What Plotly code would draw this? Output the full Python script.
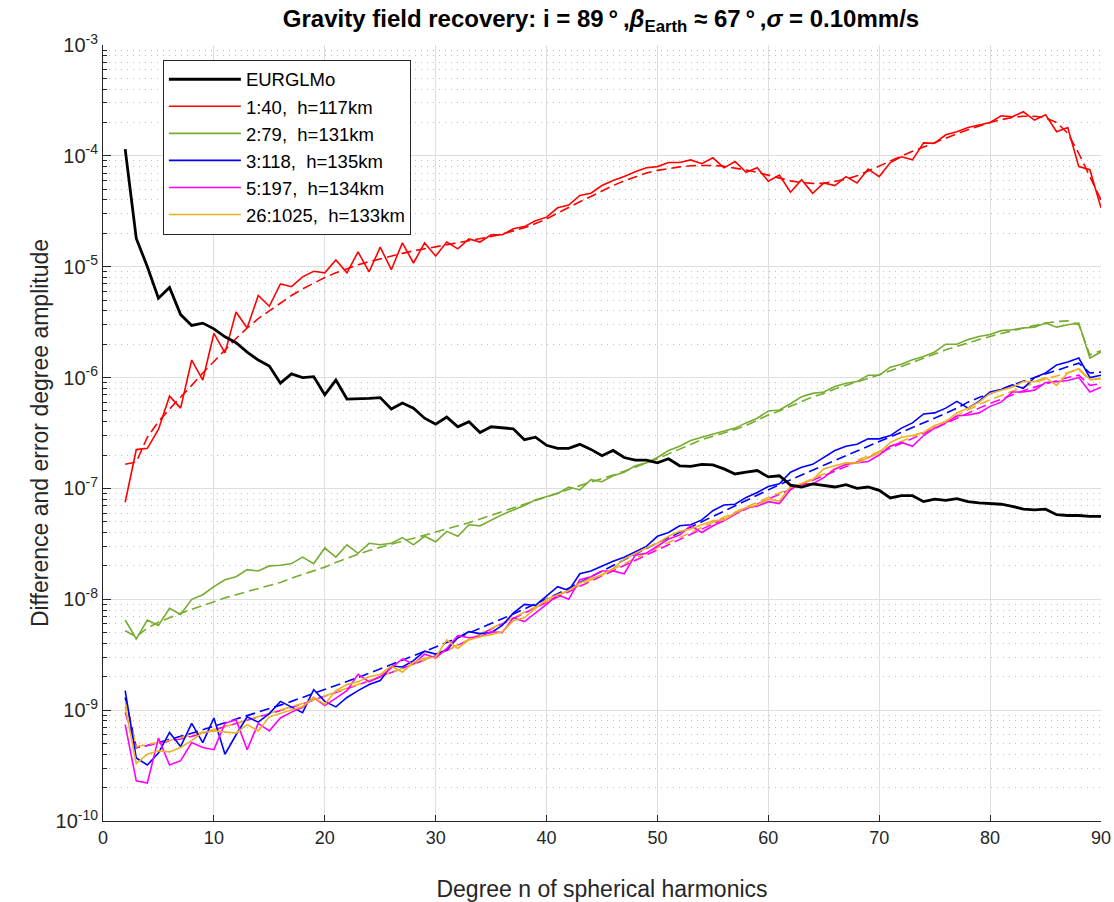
import plotly.graph_objects as go

n = list(range(2, 91))

eurglmo = [1.15e-4, 1.8e-5, 1.0e-5, 5.2e-6, 6.5e-6, 3.7e-6, 2.95e-6, 3.1e-6, 2.75e-6, 2.33e-6,
           2.06e-6, 1.7e-6, 1.44e-6, 1.27e-6, 8.9e-7, 1.08e-6, 1.0e-6, 1.02e-6, 7.0e-7, 9.5e-7,
           6.4e-7, 6.4e-7, 6.5e-7, 6.6e-7, 5.2e-7, 5.9e-7, 5.3e-7, 4.3e-7, 3.8e-7, 4.4e-7,
           3.6e-7, 4.0e-7, 3.2e-7, 3.6e-7, 3.5e-7, 3.45e-7, 2.75e-7, 2.9e-7, 2.45e-7, 2.3e-7,
           2.3e-7, 2.5e-7, 2.25e-7, 1.97e-7, 2.2e-7, 1.9e-7, 1.8e-7, 1.8e-7, 1.7e-7, 1.85e-7,
           1.6e-7, 1.58e-7, 1.65e-7, 1.63e-7, 1.5e-7, 1.35e-7, 1.4e-7, 1.45e-7, 1.27e-7, 1.3e-7,
           1.07e-7, 1.03e-7, 1.1e-7, 1.07e-7, 1.03e-7, 1.08e-7, 1.0e-7, 1.03e-7, 9.6e-8, 8.2e-8,
           8.6e-8, 8.6e-8, 7.6e-8, 8.0e-8, 7.8e-8, 8.1e-8, 7.6e-8, 7.4e-8, 7.3e-8, 7.2e-8,
           6.9e-8, 6.5e-8, 6.4e-8, 6.5e-8, 5.8e-8, 5.7e-8, 5.7e-8, 5.6e-8, 5.6e-8]

red_diff = [7.5e-8, 2.24e-7, 2.3e-7, 3.4e-7, 6.8e-7, 5.3e-7, 1.44e-6, 9.5e-7, 2.5e-6, 1.67e-6,
            3.9e-6, 2.8e-6, 5.5e-6, 4.4e-6, 7.0e-6, 6.6e-6, 8.1e-6, 9.1e-6, 8.8e-6, 1.15e-5,
            8.8e-6, 1.36e-5, 9.0e-6, 1.5e-5, 9.4e-6, 1.64e-5, 1.08e-5, 1.64e-5, 1.25e-5, 1.67e-5,
            1.45e-5, 1.78e-5, 1.67e-5, 1.94e-5, 1.94e-5, 2.2e-5, 2.3e-5, 2.6e-5, 2.8e-5, 3.4e-5,
            3.6e-5, 4.4e-5, 4.6e-5, 5.4e-5, 6.0e-5, 6.5e-5, 7.2e-5, 7.8e-5, 8.0e-5, 8.7e-5,
            8.7e-5, 9.2e-5, 8.5e-5, 9.6e-5, 7.8e-5, 8.9e-5, 7.1e-5, 7.8e-5, 5.9e-5, 6.7e-5,
            4.7e-5, 6.1e-5, 4.6e-5, 5.7e-5, 5.4e-5, 6.5e-5, 5.7e-5, 7.6e-5, 6.5e-5, 8.7e-5,
            9.8e-5, 9.2e-5, 1.31e-4, 1.3e-4, 1.55e-4, 1.65e-4, 1.8e-4, 1.9e-4, 2.0e-4, 2.3e-4,
            2.25e-4, 2.5e-4, 2.1e-4, 2.35e-4, 1.65e-4, 1.8e-4, 8.0e-5, 7.5e-5, 3.4e-5]

red_err = [1.65e-7, 1.73e-7, 2.9e-7, 4.0e-7, 5.2e-7, 6.6e-7, 8.5e-7, 1.1e-6, 1.4e-6, 1.8e-6,
           2.25e-6, 2.8e-6, 3.4e-6, 4.0e-6, 4.7e-6, 5.5e-6, 6.3e-6, 7.1e-6, 8.0e-6, 8.8e-6,
           9.6e-6, 1.04e-5, 1.11e-5, 1.18e-5, 1.25e-5, 1.32e-5, 1.39e-5, 1.45e-5, 1.5e-5, 1.57e-5,
           1.63e-5, 1.7e-5, 1.78e-5, 1.87e-5, 1.97e-5, 2.1e-5, 2.25e-5, 2.45e-5, 2.7e-5, 3.05e-5,
           3.4e-5, 3.85e-5, 4.3e-5, 4.85e-5, 5.4e-5, 5.95e-5, 6.5e-5, 7.0e-5, 7.4e-5, 7.7e-5,
           7.95e-5, 8.15e-5, 8.2e-5, 8.2e-5, 8.05e-5, 7.8e-5, 7.45e-5, 7.1e-5, 6.7e-5, 6.3e-5,
           5.95e-5, 5.75e-5, 5.65e-5, 5.65e-5, 5.85e-5, 6.15e-5, 6.6e-5, 7.3e-5, 8.1e-5, 9.0e-5,
           1.0e-4, 1.1e-4, 1.2e-4, 1.32e-4, 1.45e-4, 1.58e-4, 1.72e-4, 1.86e-4, 2.0e-4, 2.12e-4,
           2.22e-4, 2.28e-4, 2.28e-4, 2.2e-4, 2.0e-4, 1.6e-4, 1.05e-4, 6.5e-5, 4.0e-5]

green_diff = [6.5e-9, 4.4e-9, 6.5e-9, 5.8e-9, 8.3e-9, 7.3e-9, 1.0e-8, 1.1e-8, 1.3e-8, 1.5e-8,
              1.6e-8, 1.85e-8, 1.8e-8, 2.0e-8, 2.03e-8, 2.1e-8, 2.4e-8, 2.1e-8, 2.9e-8, 2.4e-8,
              3.1e-8, 2.6e-8, 3.2e-8, 3.1e-8, 3.2e-8, 3.6e-8, 3.1e-8, 3.7e-8, 3.3e-8, 4.1e-8,
              3.7e-8, 4.7e-8, 4.6e-8, 5.2e-8, 5.8e-8, 6.4e-8, 7.0e-8, 7.9e-8, 8.4e-8, 9.0e-8,
              1.03e-7, 9.7e-8, 1.2e-7, 1.15e-7, 1.3e-7, 1.4e-7, 1.6e-7, 1.7e-7, 1.9e-7, 2.2e-7,
              2.4e-7, 2.7e-7, 2.9e-7, 3.1e-7, 3.3e-7, 3.5e-7, 3.9e-7, 4.3e-7, 5.0e-7, 5.1e-7,
              5.8e-7, 6.7e-7, 7.2e-7, 7.4e-7, 8.3e-7, 8.9e-7, 9.2e-7, 1.05e-6, 1.05e-6, 1.24e-6,
              1.32e-6, 1.45e-6, 1.55e-6, 1.7e-6, 2.0e-6, 2.0e-6, 2.2e-6, 2.35e-6, 2.45e-6, 2.65e-6,
              2.7e-6, 2.8e-6, 2.85e-6, 3.1e-6, 2.85e-6, 3.0e-6, 3.1e-6, 1.5e-6, 1.7e-6]

green_err = [5.2e-9, 4.6e-9, 5.5e-9, 6.2e-9, 6.8e-9, 7.5e-9, 8.1e-9, 8.8e-9, 9.6e-9, 1.03e-8,
             1.1e-8, 1.17e-8, 1.25e-8, 1.33e-8, 1.42e-8, 1.55e-8, 1.68e-8, 1.8e-8, 1.95e-8, 2.15e-8,
             2.35e-8, 2.55e-8, 2.75e-8, 2.95e-8, 3.15e-8, 3.35e-8, 3.55e-8, 3.8e-8, 4.05e-8, 4.3e-8,
             4.6e-8, 4.9e-8, 5.3e-8, 5.7e-8, 6.2e-8, 6.7e-8, 7.2e-8, 7.8e-8, 8.4e-8, 9.1e-8,
             9.8e-8, 1.06e-7, 1.14e-7, 1.22e-7, 1.32e-7, 1.43e-7, 1.55e-7, 1.68e-7, 1.85e-7, 2.05e-7,
             2.25e-7, 2.5e-7, 2.75e-7, 2.95e-7, 3.15e-7, 3.4e-7, 3.7e-7, 4.1e-7, 4.6e-7, 5.0e-7,
             5.5e-7, 6.1e-7, 6.7e-7, 7.2e-7, 7.9e-7, 8.5e-7, 9.1e-7, 9.9e-7, 1.06e-6, 1.15e-6,
             1.25e-6, 1.37e-6, 1.5e-6, 1.63e-6, 1.78e-6, 1.92e-6, 2.07e-6, 2.2e-6, 2.35e-6, 2.5e-6,
             2.65e-6, 2.8e-6, 2.95e-6, 3.1e-6, 3.2e-6, 3.25e-6, 3.0e-6, 1.6e-6, 1.75e-6]

blue_diff = [1.5e-9, 3.7e-10, 3.2e-10, 4.1e-10, 6.3e-10, 4.7e-10, 7.6e-10, 5.1e-10, 8.5e-10, 4.0e-10,
             6.0e-10, 8.7e-10, 7.8e-10, 9.3e-10, 1.2e-9, 1.07e-9, 9.5e-10, 1.53e-9, 1.2e-9, 1.07e-9,
             1.3e-9, 1.5e-9, 1.7e-9, 1.85e-9, 2.5e-9, 2.45e-9, 2.8e-9, 3.4e-9, 3.2e-9, 3.5e-9,
             4.5e-9, 5.1e-9, 4.9e-9, 5.0e-9, 5.8e-9, 7.5e-9, 9.0e-9, 8.8e-9, 1.08e-8, 1.3e-8,
             1.2e-8, 1.7e-8, 1.8e-8, 2.0e-8, 2.2e-8, 2.4e-8, 2.7e-8, 3.0e-8, 3.7e-8, 4.0e-8,
             4.6e-8, 4.7e-8, 5.2e-8, 6.3e-8, 7.1e-8, 7.2e-8, 8.3e-8, 9.2e-8, 1.04e-7, 1.1e-7,
             1.4e-7, 1.55e-7, 1.65e-7, 1.9e-7, 2.2e-7, 2.4e-7, 2.5e-7, 2.8e-7, 2.8e-7, 3.0e-7,
             3.5e-7, 3.9e-7, 4.7e-7, 4.8e-7, 5.3e-7, 6.1e-7, 5.3e-7, 6.1e-7, 7.4e-7, 7.8e-7,
             8.6e-7, 8.0e-7, 1.0e-6, 1.1e-6, 1.3e-6, 1.38e-6, 1.5e-6, 1.0e-6, 1.05e-6]

blue_err = [1.3e-9, 4.6e-10, 4.8e-10, 5.1e-10, 5.4e-10, 5.8e-10, 6.2e-10, 6.7e-10, 7.2e-10, 7.7e-10,
            8.3e-10, 8.9e-10, 9.6e-10, 1.03e-9, 1.11e-9, 1.2e-9, 1.3e-9, 1.41e-9, 1.53e-9, 1.66e-9,
            1.81e-9, 1.97e-9, 2.15e-9, 2.35e-9, 2.57e-9, 2.81e-9, 3.08e-9, 3.38e-9, 3.71e-9, 4.08e-9,
            4.49e-9, 4.95e-9, 5.46e-9, 6.03e-9, 6.67e-9, 7.38e-9, 8.17e-9, 9.05e-9, 1.0e-8, 1.12e-8,
            1.26e-8, 1.42e-8, 1.6e-8, 1.8e-8, 2.02e-8, 2.27e-8, 2.55e-8, 2.87e-8, 3.22e-8, 3.6e-8,
            4.03e-8, 4.5e-8, 5.0e-8, 5.6e-8, 6.3e-8, 7.0e-8, 7.8e-8, 8.7e-8, 9.7e-8, 1.08e-7,
            1.2e-7, 1.33e-7, 1.47e-7, 1.62e-7, 1.79e-7, 1.98e-7, 2.18e-7, 2.4e-7, 2.65e-7, 2.92e-7,
            3.21e-7, 3.53e-7, 3.88e-7, 4.26e-7, 4.75e-7, 5.3e-7, 6.0e-7, 6.6e-7, 7.2e-7, 7.9e-7,
            8.6e-7, 9.3e-7, 1.0e-6, 1.08e-6, 1.17e-6, 1.27e-6, 1.35e-6, 1.1e-6, 1.12e-6]

magenta_diff = [7.4e-10, 2.3e-10, 2.2e-10, 5.6e-10, 3.2e-10, 3.5e-10, 5.1e-10, 4.6e-10, 4.4e-10, 7.6e-10,
                8.2e-10, 4.4e-10, 7.6e-10, 6.5e-10, 8.5e-10, 9.6e-10, 1.06e-9, 1.3e-9, 1.1e-9, 1.28e-9,
                1.5e-9, 2.1e-9, 1.8e-9, 2.0e-9, 2.4e-9, 2.9e-9, 2.6e-9, 3.2e-9, 2.95e-9, 3.6e-9,
                4.7e-9, 4.5e-9, 4.6e-9, 5.1e-9, 5.0e-9, 6.8e-9, 6.3e-9, 7.5e-9, 9.0e-9, 1.1e-8,
                1.0e-8, 1.5e-8, 1.6e-8, 1.8e-8, 1.8e-8, 1.7e-8, 2.5e-8, 2.6e-8, 3.0e-8, 3.5e-8,
                3.8e-8, 4.6e-8, 4.0e-8, 4.6e-8, 5.1e-8, 5.8e-8, 6.7e-8, 6.9e-8, 7.6e-8, 7.3e-8,
                9.8e-8, 1.1e-7, 1.1e-7, 1.25e-7, 1.5e-7, 1.65e-7, 1.7e-7, 1.75e-7, 2.0e-7, 2.4e-7,
                2.6e-7, 2.4e-7, 3.0e-7, 3.5e-7, 3.9e-7, 4.5e-7, 4.6e-7, 4.8e-7, 5.5e-7, 6.0e-7,
                7.4e-7, 7.4e-7, 7.7e-7, 9.0e-7, 9.2e-7, 9.4e-7, 1.0e-6, 7.4e-7, 8.2e-7]

magenta_err = [9.5e-10, 4.6e-10, 4.8e-10, 5.0e-10, 5.2e-10, 5.5e-10, 5.8e-10, 6.2e-10, 6.6e-10, 7.0e-10,
               7.5e-10, 8.0e-10, 8.6e-10, 9.2e-10, 9.9e-10, 1.06e-9, 1.14e-9, 1.23e-9, 1.33e-9, 1.44e-9,
               1.56e-9, 1.69e-9, 1.84e-9, 2.0e-9, 2.18e-9, 2.38e-9, 2.6e-9, 2.84e-9, 3.1e-9, 3.45e-9,
               3.85e-9, 4.3e-9, 4.8e-9, 5.35e-9, 6.0e-9, 6.7e-9, 7.5e-9, 8.4e-9, 9.4e-9, 1.05e-8,
               1.17e-8, 1.31e-8, 1.46e-8, 1.63e-8, 1.82e-8, 2.03e-8, 2.27e-8, 2.53e-8, 2.82e-8, 3.14e-8,
               3.5e-8, 3.9e-8, 4.33e-8, 4.8e-8, 5.33e-8, 5.9e-8, 6.55e-8, 7.25e-8, 8.0e-8, 8.85e-8,
               9.8e-8, 1.08e-7, 1.19e-7, 1.31e-7, 1.44e-7, 1.58e-7, 1.73e-7, 1.9e-7, 2.08e-7, 2.3e-7,
               2.55e-7, 2.82e-7, 3.12e-7, 3.45e-7, 3.85e-7, 4.3e-7, 4.8e-7, 5.3e-7, 5.85e-7, 6.4e-7,
               7.0e-7, 7.6e-7, 8.2e-7, 8.8e-7, 9.4e-7, 1.0e-6, 1.05e-6, 8.5e-7, 8.8e-7]

orange_diff = [1.08e-9, 3.3e-10, 4.0e-10, 4.3e-10, 4.2e-10, 4.6e-10, 5.3e-10, 6.3e-10, 6.5e-10, 6.3e-10,
               6.2e-10, 7.4e-10, 6.5e-10, 8.7e-10, 9.3e-10, 1.0e-9, 1.08e-9, 1.3e-9, 1.13e-9, 1.5e-9,
               1.7e-9, 1.8e-9, 2.0e-9, 2.1e-9, 2.5e-9, 2.2e-9, 2.7e-9, 2.95e-9, 3.0e-9, 4.3e-9,
               3.6e-9, 4.3e-9, 4.6e-9, 4.8e-9, 5.1e-9, 6.4e-9, 6.8e-9, 8.3e-9, 1.0e-8, 1.1e-8,
               1.2e-8, 1.4e-8, 1.55e-8, 1.65e-8, 1.9e-8, 2.3e-8, 2.6e-8, 2.9e-8, 3.2e-8, 3.7e-8,
               4.1e-8, 4.3e-8, 4.7e-8, 5.1e-8, 5.2e-8, 6.0e-8, 6.7e-8, 7.1e-8, 8.0e-8, 7.7e-8,
               1.04e-7, 1.1e-7, 1.2e-7, 1.5e-7, 1.6e-7, 1.7e-7, 1.7e-7, 1.9e-7, 2.1e-7, 2.6e-7,
               2.9e-7, 3.0e-7, 3.2e-7, 3.7e-7, 4.0e-7, 4.8e-7, 5.3e-7, 6.0e-7, 7.2e-7, 7.7e-7,
               8.2e-7, 9.2e-7, 9.2e-7, 1.0e-6, 8.5e-7, 1.1e-6, 1.2e-6, 9.6e-7, 9.8e-7]

orange_err = [1.2e-9, 4.7e-10, 4.9e-10, 5.1e-10, 5.35e-10, 5.65e-10, 5.95e-10, 6.3e-10, 6.7e-10, 7.1e-10,
              7.6e-10, 8.1e-10, 8.7e-10, 9.3e-10, 1.0e-9, 1.07e-9, 1.15e-9, 1.24e-9, 1.34e-9, 1.45e-9,
              1.57e-9, 1.7e-9, 1.85e-9, 2.01e-9, 2.19e-9, 2.39e-9, 2.61e-9, 2.85e-9, 3.1e-9, 3.47e-9,
              3.89e-9, 4.35e-9, 4.88e-9, 5.46e-9, 6.12e-9, 6.85e-9, 7.67e-9, 8.6e-9, 9.6e-9, 1.07e-8,
              1.2e-8, 1.34e-8, 1.5e-8, 1.68e-8, 1.88e-8, 2.1e-8, 2.35e-8, 2.62e-8, 2.92e-8, 3.25e-8,
              3.6e-8, 4.0e-8, 4.45e-8, 4.95e-8, 5.5e-8, 6.1e-8, 6.8e-8, 7.5e-8, 8.3e-8, 9.2e-8,
              1.02e-7, 1.12e-7, 1.23e-7, 1.35e-7, 1.48e-7, 1.62e-7, 1.77e-7, 1.94e-7, 2.15e-7, 2.4e-7,
              2.65e-7, 2.92e-7, 3.25e-7, 3.6e-7, 4.05e-7, 4.55e-7, 5.1e-7, 5.7e-7, 6.3e-7, 6.9e-7,
              7.6e-7, 8.3e-7, 9.0e-7, 9.7e-7, 1.04e-6, 1.11e-6, 1.18e-6, 9.5e-7, 9.8e-7]

legend_names = ["EURGLMo", "1:40,\u00a0 h=117km", "2:79,\u00a0 h=131km",
                "3:118,\u00a0 h=135km", "5:197,\u00a0 h=134km", "26:1025,\u00a0 h=133km"]
colors = ["#000000", "#ff0000", "#77ac30", "#0000ff", "#ff00ff", "#edb120"]

x_ticks = [0, 10, 20, 30, 40, 50, 60, 70, 80, 90]
y_ticks = [1e-10, 1e-9, 1e-8, 1e-7, 1e-6, 1e-5, 1e-4, 1e-3]
y_ticktext = ["10<sup>-10</sup>", "10<sup>-9</sup>", "10<sup>-8</sup>", "10<sup>-7</sup>",
              "10<sup>-6</sup>", "10<sup>-5</sup>", "10<sup>-4</sup>", "10<sup>-3</sup>"]
y_minor = [k * 10.0 ** e for e in range(-10, -3) for k in range(2, 10)]

FONT = "Liberation Sans, Arial, Helvetica, sans-serif"
TXT = "#262626"

fig = go.Figure()

diffs = [red_diff, green_diff, blue_diff, magenta_diff, orange_diff]
errs = [red_err, green_err, blue_err, magenta_err, orange_err]

# dashed error curves (not in legend)
for c, e in zip(colors[1:], errs):
    fig.add_trace(go.Scatter(x=n, y=e, mode="lines", showlegend=False, hoverinfo="skip",
                             line=dict(color=c, width=1.6, dash="10px,5px")))
# solid difference curves
for i, (c, d) in enumerate(zip(colors[1:], diffs)):
    fig.add_trace(go.Scatter(x=n, y=d, mode="lines", name=legend_names[i + 1], legendrank=i + 2,
                             line=dict(color=c, width=1.6)))
# model curve
fig.add_trace(go.Scatter(x=n, y=eurglmo, mode="lines", name=legend_names[0], legendrank=1,
                         line=dict(color=colors[0], width=2.8)))

fig.update_layout(
    width=1114, height=902,
    margin=dict(l=103, r=13, t=45, b=81),
    paper_bgcolor="white", plot_bgcolor="white",
    font=dict(family=FONT, color=TXT, size=19),
    title=dict(text="<b>Gravity field recovery: i = 89\u2009\u00b0\u2009,<i>\u03b2</i><sub>Earth</sub> \u2248 67\u2009\u00b0\u2009,<i>\u03c3</i> = 0.10mm/s</b>",
               x=0.5395, xanchor="center", y=0.979, yanchor="middle",
               font=dict(size=24, color="#000000", family=FONT)),
    legend=dict(x=0.06, y=0.981, xanchor="left", yanchor="top",
                bgcolor="white", bordercolor="#262626", borderwidth=1,
                font=dict(size=18.5, color="#000000", family=FONT),
                tracegroupgap=0, itemwidth=72),
    showlegend=True,
)

fig.update_xaxes(
    range=[0, 90], tickmode="array", tickvals=x_ticks, automargin=False,
    ticks="inside", ticklen=6, tickcolor=TXT, tickfont=dict(size=18, color=TXT),
    showline=True, linecolor=TXT, linewidth=1, mirror=False,
    showgrid=True, gridcolor="#dedede", gridwidth=1, zeroline=False,
    title=dict(text="Degree n of spherical harmonics", font=dict(size=23, color=TXT), standoff=34),
)
fig.update_yaxes(
    type="log", range=[-10, -3], tickmode="array", tickvals=y_ticks, ticktext=y_ticktext,
    automargin=False,
    ticks="inside", ticklen=8, tickcolor=TXT, tickfont=dict(size=20, color=TXT),
    showline=True, linecolor=TXT, linewidth=1, mirror=False,
    showgrid=True, gridcolor="#dedede", gridwidth=1, zeroline=False,
    minor=dict(tickmode="array", tickvals=y_minor, ticks="inside", ticklen=4, tickcolor=TXT,
               showgrid=True, gridcolor="#bdbdbd", gridwidth=1, griddash="1px,5px"),
    title=dict(text="Difference and error degree amplitude", font=dict(size=23, color=TXT), standoff=0),
)

fig.write_html("out.html")
